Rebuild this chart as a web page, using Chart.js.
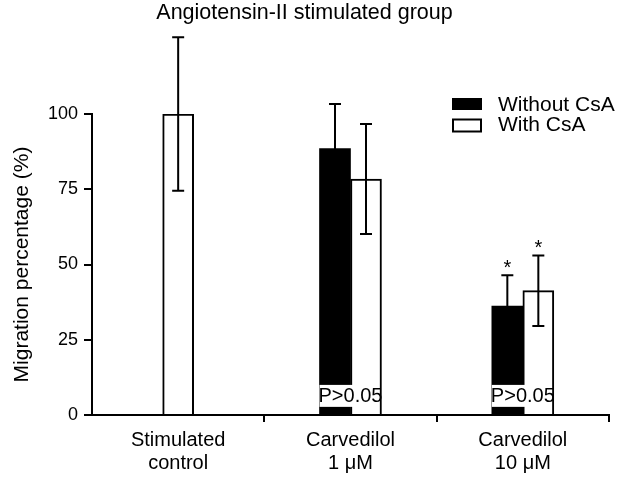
<!DOCTYPE html>
<html>
<head>
<meta charset="utf-8">
<script src="https://cdn.jsdelivr.net/npm/chart.js@4.4.1/dist/chart.umd.min.js"></script>
<style>
  html, body { margin: 0; padding: 0; background: #fff; }
  #wrap { width: 629px; height: 479px; }
</style>
</head>
<body>
<div id="wrap"><canvas id="chart" width="629" height="479"></canvas></div>
<script>
// Data
const categories = [["Stimulated", "control"], ["Carvedilol", "1 μM"], ["Carvedilol", "10 μM"]];
const withoutCsA = [null, 88.5, 36.2];
const withoutCsAErr = [null, 14.8, 10.2];
const withCsA = [100, 78.4, 41.3];
const withCsAErr = [25.5, 18.3, 11.7];
const withoutCsAStar = [false, false, true];
const withCsAStar = [false, false, true];
const pLabels = [null, "P>0.05", "P>0.05"];

const FONT = "'Liberation Sans', Arial, sans-serif";

// error bars, asterisks and the P>0.05 notes
const annotations = {
  id: "annotations",
  afterDatasetsDraw(chart) {
    const ctx = chart.ctx;
    const y = chart.scales.y;
    const errs = [withoutCsAErr, withCsAErr];
    const stars = [withoutCsAStar, withCsAStar];

    // white band with P label across the pair of bars
    const m0 = chart.getDatasetMeta(0);
    const m1 = chart.getDatasetMeta(1);
    pLabels.forEach((txt, j) => {
      if (!txt) return;
      const b = m0.data[j], w = m1.data[j];
      const left = b.x - b.width / 2;
      const right = w.x + w.width / 2;
      const top = y.getPixelForValue(10);
      const bot = y.getPixelForValue(2.7);
      ctx.save();
      ctx.fillStyle = "#fff";
      ctx.fillRect(left, top, right - left - 2.5, bot - top);
      ctx.fillStyle = "#000";
      ctx.font = "20px " + FONT;
      ctx.textAlign = "center";
      ctx.textBaseline = "middle";
      ctx.fillText(txt, (left + right) / 2, y.getPixelForValue(6.3));
      ctx.restore();
    });

    chart.data.datasets.forEach((ds, i) => {
      const meta = chart.getDatasetMeta(i);
      meta.data.forEach((bar, j) => {
        const v = ds.data[j];
        if (v === null || v === undefined) return;
        const e = errs[i][j];
        const yt = y.getPixelForValue(v + e);
        const yb = y.getPixelForValue(v - e);
        ctx.save();
        ctx.strokeStyle = "#000";
        ctx.lineWidth = 2;
        ctx.beginPath();
        ctx.moveTo(bar.x, yt); ctx.lineTo(bar.x, yb);
        ctx.moveTo(bar.x - 6, yt); ctx.lineTo(bar.x + 6, yt);
        ctx.moveTo(bar.x - 6, yb); ctx.lineTo(bar.x + 6, yb);
        ctx.stroke();
        if (stars[i][j]) {
          ctx.fillStyle = "#000";
          ctx.font = "20px " + FONT;
          ctx.textAlign = "center";
          ctx.textBaseline = "alphabetic";
          ctx.fillText("*", bar.x, yt - 1);
        }
        ctx.restore();
      });
    });
  },
  afterDraw(chart) {
    // legend in the upper right corner of the plot
    const ctx = chart.ctx;
    const a = chart.chartArea;
    const x0 = a.right - 157;
    const y0 = a.top - 16;
    ctx.save();
    ctx.font = "21px " + FONT;
    ctx.textBaseline = "middle";
    ctx.fillStyle = "#000";
    chart.data.datasets.forEach((ds, i) => {
      const yy = y0 + i * 20.5;
      if (i === 0) {
        ctx.fillRect(x0, yy, 30, 12);
      } else {
        ctx.lineWidth = 2;
        ctx.strokeStyle = "#000";
        ctx.strokeRect(x0 + 1, yy + 1, 28, 12);
      }
      ctx.fillText(ds.label, x0 + 46, yy + 7);
    });
    ctx.restore();
  }
};

new Chart(document.getElementById("chart"), {
  type: "bar",
  data: {
    labels: categories,
    datasets: [
      {
        label: "Without CsA",
        data: withoutCsA,
        backgroundColor: "#000",
        borderWidth: 0
      },
      {
        label: "With CsA",
        data: withCsA,
        backgroundColor: "#fff",
        borderColor: "#000",
        borderWidth: 2
      }
    ]
  },
  options: {
    responsive: false,
    animation: false,
    devicePixelRatio: 1,
    datasets: {
      bar: { barThickness: 31, skipNull: true }
    },
    layout: { padding: { right: 20 } },
    plugins: {
      legend: { display: false },
      tooltip: { enabled: false },
      title: {
        display: true,
        text: "Angiotensin-II stimulated group",
        color: "#000",
        font: { family: FONT, size: 21.5, weight: "normal" },
        padding: { top: 0, bottom: 88.2 }
      }
    },
    scales: {
      x: {
        z: 1,
        offset: true,
        grid: {
          offset: true,
          drawOnChartArea: false,
          tickLength: 7,
          lineWidth: 2,
          color: (c) => (c.index === 0 ? "rgba(0,0,0,0)" : "#000")
        },
        border: { display: true, color: "#000", width: 2 },
        ticks: {
          color: "#000",
          padding: 7,
          maxRotation: 0,
          font: { family: FONT, size: 20, lineHeight: 1.15 }
        },
        afterFit: (s) => { s.height = 64; }
      },
      y: {
        min: 0,
        max: 100,
        grid: {
          drawOnChartArea: false,
          tickLength: 8,
          lineWidth: 2,
          color: "#000"
        },
        border: { display: true, color: "#000", width: 2 },
        ticks: {
          stepSize: 25,
          color: "#000",
          padding: 6,
          font: { family: FONT, size: 18 }
        },
        title: {
          display: true,
          text: "Migration percentage (%)",
          color: "#000",
          font: { family: FONT, size: 21, weight: "normal" },
          padding: { top: 10, bottom: 0 }
        },
        afterFit: (s) => { s.width = 92; }
      }
    }
  },
  plugins: [annotations]
});
</script>
</body>
</html>
